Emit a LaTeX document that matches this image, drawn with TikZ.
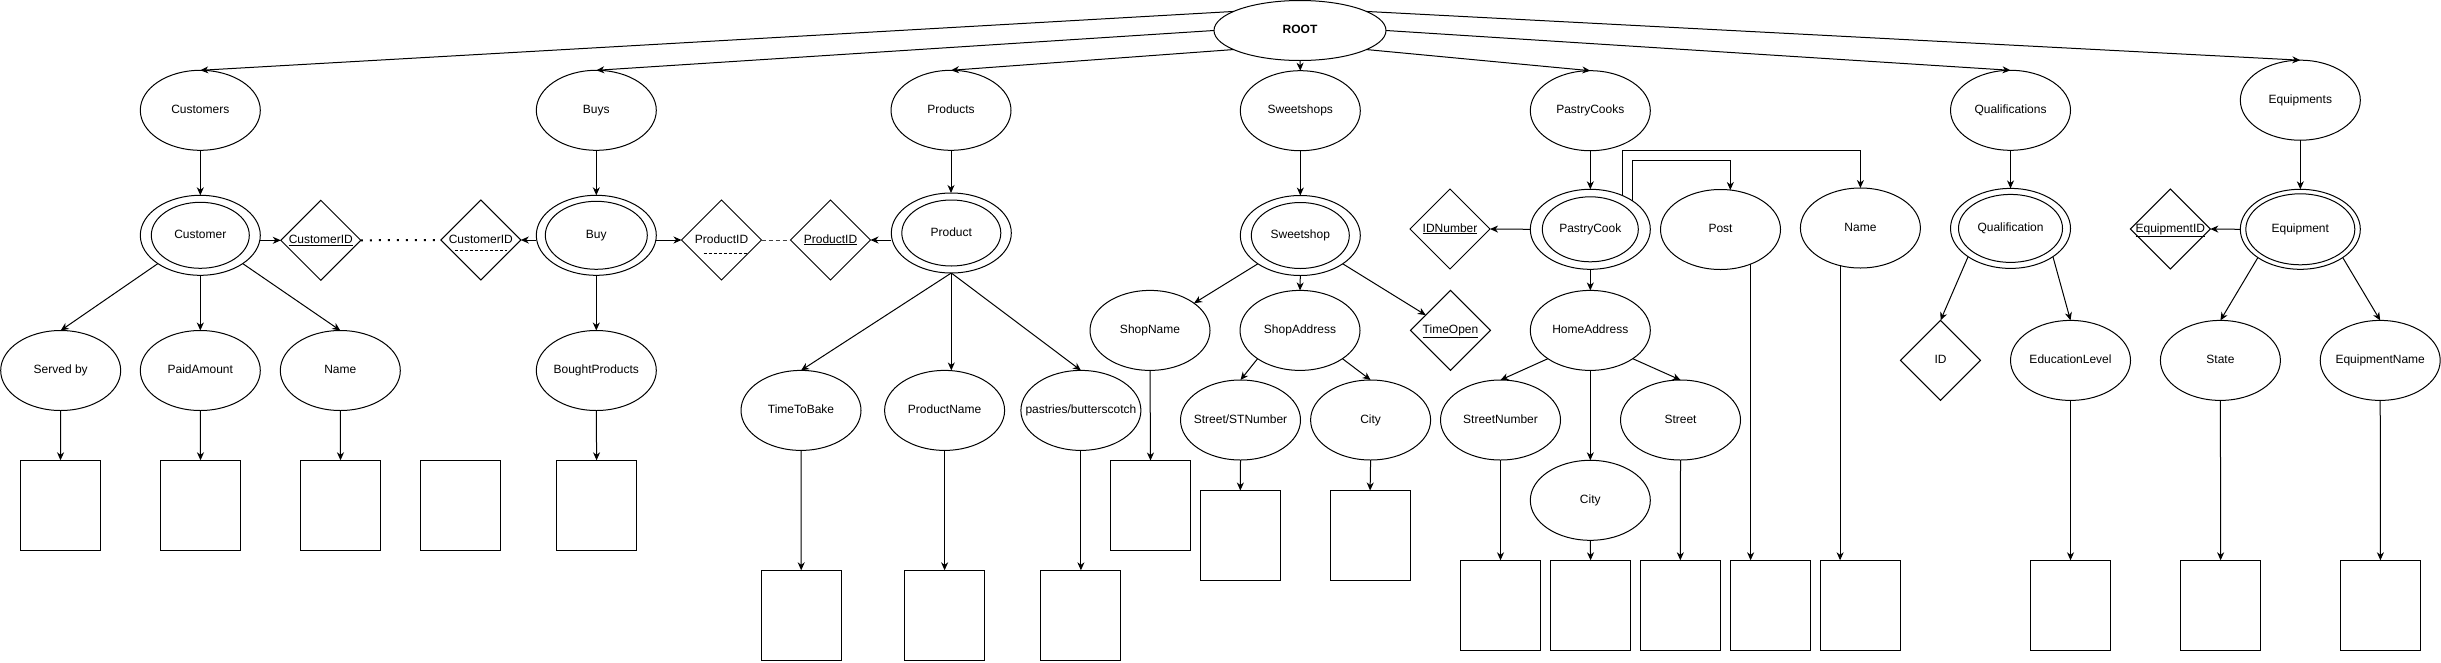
\documentclass[tikz,border=0pt]{standalone}
\usepackage{fontspec}
\setmainfont{Liberation Sans}
\usetikzlibrary{shapes.geometric,arrows.meta,calc}
\newcommand{\zb}[1]{\makebox[0pt]{#1}}
\begin{document}
\begin{tikzpicture}[x=1pt,y=-1pt,
  every node/.style={font=\fontsize{12}{14}\selectfont, inner sep=0pt, outer sep=0pt, text height=8.6pt, text depth=2.5pt},
  ent/.style={ellipse, draw, line width=1pt, minimum width=120pt, minimum height=80pt},
  inr/.style={ellipse, draw, line width=1pt},
  keyd/.style={diamond, draw, line width=1pt, minimum width=80pt, minimum height=80pt},
  valbox/.style={rectangle, draw, line width=1pt, minimum width=80pt, minimum height=90pt},
  arr/.style={draw, line width=1pt, -{Stealth[length=8pt,width=7pt,inset=2.5pt]}},
  dotline/.style={line width=2pt, dash pattern=on 2pt off 7pt},
  dashline/.style={line width=0.9pt, black!75, dash pattern=on 4pt off 3pt},
  ulin/.style={line width=0.9pt, dash pattern=on 3pt off 2pt},
]
\useasboundingbox (0,0) rectangle (2441,662);

% root
\node[ellipse, draw, line width=1pt, minimum width=172pt, minimum height=60pt] (root) at (1300,30.5) {\zb{\textbf{ROOT}}};

% level 1
\node[ent] (customers) at (200.3,110.3) {\zb{Customers}};
\node[ent] (buys) at (596.3,110.3) {\zb{Buys}};
\node[ent] (products) at (951,110.3) {\zb{Products}};
\node[ent] (sweetshops) at (1300.3,110.7) {\zb{Sweetshops}};
\node[ent] (pastrycooks) at (1590.3,110.7) {\zb{PastryCooks}};
\node[ent] (qualifications) at (2010.5,110.3) {\zb{Qualifications}};
\node[ent] (equipments) at (2300.3,100.2) {\zb{Equipments}};

% level 2 (double ellipses)
\node[ent] (customer) at (200.3,235.3) {\zb{Customer}};
\node[inr, minimum width=98pt, minimum height=66pt] (customer-in) at (customer) {};
\node[ent] (buy) at (596.3,235.3) {\zb{Buy}};
\node[inr, minimum width=102pt, minimum height=68pt] (buy-in) at (buy) {};
\node[ent] (product) at (951.3,233) {\zb{Product}};
\node[inr, minimum width=99pt, minimum height=66pt] (product-in) at (product) {};
\node[ent] (sweetshop) at (1300.3,235.5) {\zb{Sweetshop}};
\node[inr, minimum width=98pt, minimum height=66pt] (sweetshop-in) at (sweetshop) {};
\node[ent] (pastrycook) at (1590.3,229.3) {\zb{PastryCook}};
\node[inr, minimum width=96pt, minimum height=65pt] (pastrycook-in) at (pastrycook) {};
\node[ent] (qualification) at (2010.5,228.4) {\zb{Qualification}};
\node[inr, minimum width=104pt, minimum height=68pt] (qualification-in) at (qualification) {};
\node[ent] (equipment) at (2300.3,229.3) {\zb{Equipment}};
\node[inr, minimum width=109pt, minimum height=71pt] (equipment-in) at (equipment) {};

% diamonds
\node[keyd] (cid1) at (320.8,240.3) {\zb{\underline{CustomerID}}};
\node[keyd] (cid2) at (480.8,240) {\zb{CustomerID}};
\node[keyd] (pid2) at (721.5,240) {\zb{ProductID}};
\node[keyd] (pid1) at (830.5,240) {\zb{\underline{ProductID}}};
\node[keyd] (idnum) at (1450,229) {\zb{\underline{IDNumber}}};
\node[keyd] (timeopen) at (1450.5,330.4) {\zb{\underline{TimeOpen}}};
\node[keyd] (qid) at (1940.5,360.4) {\zb{ID}};
\node[keyd] (eqid) at (2170.3,229) {\zb{\underline{EquipmentID}}};

% attributes
\node[ent] (servedby) at (60.7,370.5) {\zb{Served by}};
\node[ent] (paid) at (200.3,370.5) {\zb{PaidAmount}};
\node[ent] (cname) at (340.3,370.5) {\zb{Name}};
\node[ent] (bought) at (596.3,370.5) {\zb{BoughtProducts}};
\node[ent] (ttb) at (801,410.4) {\zb{TimeToBake}};
\node[ent] (pname) at (944.6,410.4) {\zb{ProductName}};
\node[ent] (pastries) at (1080.9,410.4) {\zb{pastries/butterscotch}};
\node[ent] (shopname) at (1150,330.4) {\zb{ShopName}};
\node[ent] (shopaddr) at (1300,330.4) {\zb{ShopAddress}};
\node[ent] (ststn) at (1240.5,420) {\zb{Street/STNumber}};
\node[ent] (scity) at (1370.6,420) {\zb{City}};
\node[ent] (homeaddr) at (1590.3,330.4) {\zb{HomeAddress}};
\node[ent] (stnum) at (1500.5,420) {\zb{StreetNumber}};
\node[ent] (hcity) at (1590.3,500.3) {\zb{City}};
\node[ent] (street) at (1680.5,420) {\zb{Street}};
\node[ent] (post) at (1720.5,229.5) {\zb{Post}};
\node[ent] (pcname) at (1860.4,228) {\zb{Name}};
\node[ent] (edu) at (2070.5,360.4) {\zb{EducationLevel}};
\node[ent] (state) at (2220.4,360.4) {\zb{State}};
\node[ent] (eqname) at (2380.2,360.4) {\zb{EquipmentName}};

% value boxes
\node[valbox] (b-servedby) at (60.5,505.3) {};
\node[valbox] (b-paid) at (200.5,505.3) {};
\node[valbox] (b-cname) at (340.5,505.3) {};
\node[valbox] (b-free) at (460.5,505.3) {};
\node[valbox] (b-bought) at (596.6,505.3) {};
\node[valbox] (b-ttb) at (801.2,615.3) {};
\node[valbox] (b-pname) at (944.6,615.3) {};
\node[valbox] (b-pastries) at (1080.9,615.3) {};
\node[valbox] (b-shopname) at (1150.5,505.5) {};
\node[valbox] (b-ststn) at (1240.3,535.5) {};
\node[valbox] (b-scity) at (1370.1,535.5) {};
\node[valbox] (b-stnum) at (1500.5,605.3) {};
\node[valbox] (b-hcity) at (1590.6,605.3) {};
\node[valbox] (b-street) at (1680.3,605.3) {};
\node[valbox] (b-post) at (1770.5,605.3) {};
\node[valbox] (b-pcname) at (1860.6,605.3) {};
\node[valbox] (b-edu) at (2070.5,605.3) {};
\node[valbox] (b-state) at (2220.6,605.3) {};
\node[valbox] (b-eqname) at (2380.4,605.3) {};

% root connectors
\draw[arr] (root.164) -- (customers.north);
\draw[arr] (root.west) -- (buys.north);
\draw[arr] (root.196) -- (products.north);
\draw[arr] (root.south) -- (sweetshops.north);
\draw[arr] (root.344) -- (pastrycooks.north);
\draw[arr] (root.east) -- (qualifications.north);
\draw[arr] (root.16) -- (equipments.north);

% level 1 -> level 2
\draw[arr] (customers.south) -- (customer.north);
\draw[arr] (buys.south) -- (buy.north);
\draw[arr] (products.south) -- (products.south |- product.north);
\draw[arr] (sweetshops.south) -- (sweetshop.north);
\draw[arr] (pastrycooks.south) -- (pastrycook.north);
\draw[arr] (qualifications.south) -- (qualification.north);
\draw[arr] (equipments.south) -- (equipment.north);

% customer
\draw[arr] (customer.south west) -- (servedby.north);
\draw[arr] (customer.south) -- (paid.north);
\draw[arr] (customer.south east) -- (cname.north);
\draw[arr] (customer.east |- cid1) -- (cid1.west);
\draw[dotline] (cid1.east) -- (cid2.west);
\draw[arr] (servedby.south) -- (b-servedby.north);
\draw[arr] (paid.south) -- (b-paid.north);
\draw[arr] (cname.south) -- (b-cname.north);

% buy
\draw[arr] (buy.west |- cid2) -- (cid2.east);
\draw[arr] (buy.east |- pid2) -- (pid2.west);
\draw[dashline] (pid2.east) -- (pid1.west);
\draw[arr] (buy.south) -- (bought.north);
\draw[arr] (bought.south) -- (b-bought.north);
\draw[ulin] ([xshift=-26pt,yshift=-10pt]cid2.center) -- ([xshift=26pt,yshift=-10pt]cid2.center);
\draw[ulin] ([xshift=-18pt,yshift=-13.5pt]pid2.center) -- ([xshift=26pt,yshift=-13.5pt]pid2.center);

% product
\draw[arr] (product.west |- pid1) -- (pid1.east);
\draw[arr] (product.south) -- (ttb.north);
\draw[arr] (product.south) -- (product.south |- pname.north);
\draw[arr] (product.south) -- (pastries.north);
\draw[arr] (ttb.south) -- (b-ttb.north);
\draw[arr] (pname.south) -- (b-pname.north);
\draw[arr] (pastries.south) -- (b-pastries.north);

% sweetshop
\draw[arr] (sweetshop.south west) -- (shopname);
\draw[arr] (sweetshop.south) -- (shopaddr.north);
\draw[arr] (sweetshop.south east) -- (timeopen);
\draw[arr] (shopname.south) -- (b-shopname.north);
\draw[arr] (shopaddr.south west) -- (ststn.north);
\draw[arr] (shopaddr.south east) -- (scity.north);
\draw[arr] (ststn.south) -- (b-ststn.north);
\draw[arr] (scity.south) -- (b-scity.north);

% pastry cook
\draw[arr] (pastrycook.west) -- (idnum.east);
\draw[arr] (pastrycook.south) -- (homeaddr.north);
\coordinate (pcB) at ($(pastrycook)+(31.7,-34)$);
\coordinate (postT) at ($(post.north)+(9.8,0.5)$);
\draw[arr] (pastrycook.north east) -- ++(0,-40.3) -| (postT);
\draw[arr] (pcB) -- ++(0,-44.6) -| (pcname.north);
\coordinate (postA) at ($(post)+(30.1,34.6)$);
\coordinate (pcnA) at ($(pcname)+(-20.3,37.6)$);
\draw[arr] (postA) -- (postA |- b-post.north);
\draw[arr] (pcnA) -- (pcnA |- b-pcname.north);
\draw[arr] (homeaddr.south west) -- (stnum.north);
\draw[arr] (homeaddr.south) -- (hcity.north);
\draw[arr] (homeaddr.south east) -- (street.north);
\draw[arr] (stnum.south) -- (b-stnum.north);
\draw[arr] (hcity.south) -- (b-hcity.north);
\draw[arr] (street.south) -- (b-street.north);

% qualification
\draw[arr] (qualification.south west) -- (qid.north);
\draw[arr] (qualification.south east) -- (edu.north);
\draw[arr] (edu.south) -- (b-edu.north);

% equipment
\draw[arr] (equipment.west) -- (eqid.east);
\draw[arr] (equipment.south west) -- (state.north);
\draw[arr] (equipment.south east) -- (eqname.north);
\draw[arr] (state.south) -- (b-state.north);
\draw[arr] (eqname.south) -- (b-eqname.north);
\end{tikzpicture}
\end{document}
